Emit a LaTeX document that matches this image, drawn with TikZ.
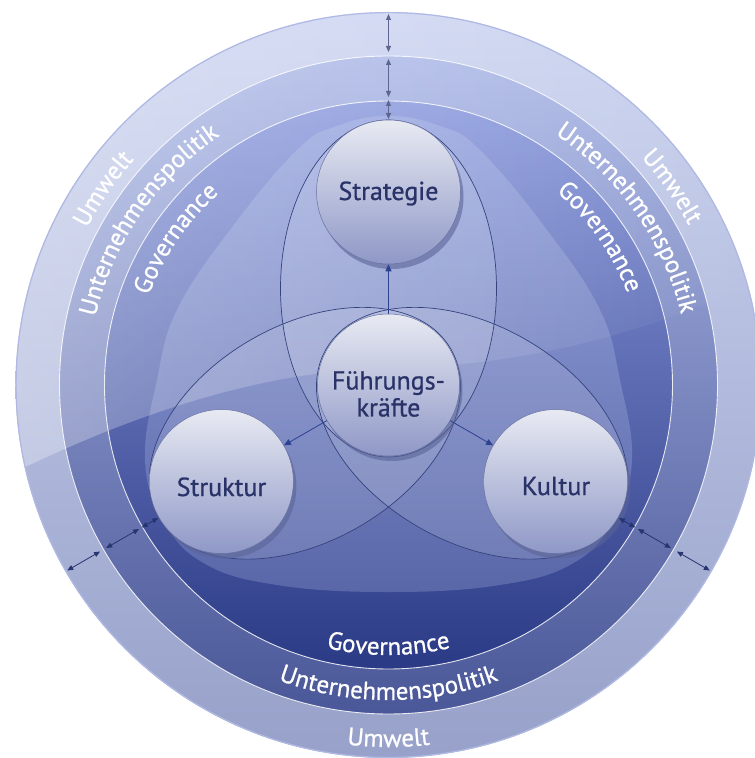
\documentclass[tikz,border=0pt]{standalone}
\usepackage{fontspec}
\setmainfont{PT Sans}
\newfontfamily\medfont[FakeBold=0.8]{PT Sans}
\usetikzlibrary{arrows.meta,decorations.text,fadings}
\definecolor{umTop}{HTML}{CDD5F1}
\definecolor{umBot}{HTML}{97A1C9}
\definecolor{upTop}{HTML}{AEBAE8}
\definecolor{upBot}{HTML}{4A5798}
\definecolor{gvTop}{HTML}{8D9CDE}
\definecolor{gvBot}{HTML}{2B3A85}
\definecolor{inTop}{HTML}{9AA8E0}
\definecolor{inBot}{HTML}{5967A9}
\definecolor{sphTop}{HTML}{E8EAF2}
\definecolor{sphBot}{HTML}{8F98C7}
\definecolor{sphEdge}{HTML}{6A72A2}
\definecolor{sphShadow}{HTML}{5A6497}
\definecolor{txtNavy}{HTML}{2A3368}
\definecolor{petalLine}{HTML}{34437E}
\definecolor{arrNavy}{HTML}{2C4290}
\definecolor{arrDark}{HTML}{26346F}
\definecolor{arrGray}{HTML}{5E6690}
\definecolor{rimCol}{HTML}{AFB9E3}
\newcommand\ringfont{\medfont\fontsize{25}{30}\selectfont\color{white}}
\begin{document}
\begin{tikzpicture}[x=1pt,y=1pt,
  ringlabel/.style={decorate,decoration={text along path,text align=center,text={|\ringfont|#1}}},
  ringline/.style={white,line width=0.9pt,opacity=0.85},
  petal/.style={draw=petalLine,line width=0.7pt},
  sphere/.style={circle,minimum size=144pt,inner sep=0pt,top color=sphTop,bottom color=sphBot,draw=sphEdge,line width=0.5pt},
  sphshadow/.style={fill=sphShadow,fill opacity=0.6},
  sphtext/.style={font=\medfont\fontsize{26}{27}\selectfont,text=txtNavy,align=center,inner sep=0pt},
  inarr/.style={draw=arrNavy,line width=0.8pt,-{Triangle[length=7pt,width=6pt]}},
  ringarr/.style={line width=0.8pt,{Triangle[length=6pt,width=5pt]}-{Triangle[length=6pt,width=5pt]}},
]
\useasboundingbox (-388.5,-373) rectangle (366.5,385);
\clip (-388.5,-373) rectangle (366.5,385);
% rings
\shade[top color=umTop,bottom color=umBot] (0,0) circle[radius=373];
\shade[top color=upTop,bottom color=upBot] (0,0) circle[radius=329];
\shade[top color=gvTop,bottom color=gvBot] (0,0) circle[radius=284];
% inner lighter region
\shade[top color=inTop,bottom color=inBot] plot[smooth cycle,tension=0.7] coordinates {(0,269) (51.5,259) (91.5,235) (158.5,155) (211.5,75) (231.5,5) (243.5,-75) (225,-135) (185,-178) (111.5,-200) (0,-207) (-111.5,-200) (-185,-178) (-225,-135) (-243.5,-75) (-231.5,5) (-211.5,75) (-158.5,155) (-91.5,235) (-51.5,259)};
% petal fills
\foreach \a in {90,210,330}
  \fill[white,fill opacity=0.12,shift={(\a:96.5)},rotate=\a-90] (0,0) ellipse[x radius=108,y radius=168.5];
% gloss
\begin{scope}
  \clip (0,0) circle[radius=373];
  \fill[white,fill opacity=0.3,path fading=east] (-390,-95) .. controls (-250,-25) and (-120,15) .. (0,17) .. controls (150,19) and (280,60) .. (380,110) -- (380,390) -- (-390,390) -- cycle;
\end{scope}
% petal outlines
\foreach \a in {90,210,330}
  \draw[petal,shift={(\a:96.5)},rotate=\a-90] (0,0) ellipse[x radius=108,y radius=168.5];
% ring lines
\draw[ringline] (0,0) circle[radius=329];
\draw[ringline] (0,0) circle[radius=284];
\draw[draw=rimCol,line width=1.2pt] (0,0) circle[radius=372.4];
% ring labels
\path[ringlabel=Umwelt] (185.5:340) arc[start angle=185.5,end angle=105.5,radius=340];
\path[ringlabel=Unternehmenspolitik] (185.5:301) arc[start angle=185.5,end angle=105.5,radius=301];
\path[ringlabel=Governance] (185.5:256) arc[start angle=185.5,end angle=105.5,radius=256];
\path[ringlabel=Umwelt] (75:340) arc[start angle=75,end angle=-5,radius=340];
\path[ringlabel=Unternehmenspolitik] (75:301) arc[start angle=75,end angle=-5,radius=301];
\path[ringlabel=Governance] (75:256) arc[start angle=75,end angle=-5,radius=256];
\path[ringlabel=Governance] (230:270) arc[start angle=230,end angle=310,radius=270];
\path[ringlabel=Unternehmenspolitik] (230:315) arc[start angle=230,end angle=310,radius=315];
\path[ringlabel=Umwelt] (240:362) arc[start angle=240,end angle=300,radius=362];
% sphere shadows
\fill[sphshadow] (90:193) ++(3,-5) circle[radius=72];
\fill[sphshadow] (210:193) ++(3,-5) circle[radius=72];
\fill[sphshadow] (330:193) ++(3,-5) circle[radius=72];
\fill[sphshadow] (0,0) ++(3,-5) circle[radius=71];
% spheres
\node[sphere] (strat) at (90:193) {};
\node[sphere] (strk) at (210:193) {};
\node[sphere] (kult) at (330:193) {};
\node[sphere,minimum size=142pt] (fk) at (0,0) {};
\node[sphtext,anchor=base] (tStrat) at (0,185) {Strategie};
\node[sphtext,anchor=base] (tStrk) at (-167,-111) {Struktur};
\node[sphtext,anchor=base] (tKult) at (167.5,-110) {Kultur};
\node[sphtext] (tFk) at (0,-9) {Führungs-\\kräfte};
% inner arrows
\draw[inarr] (fk) -- (strat);
\draw[inarr] (fk) -- (strk);
\draw[inarr] (fk) -- (kult);
% ring arrows
\foreach \a/\c in {90/arrGray,210/arrDark,330/arrDark} {
  \coordinate (p1-\a) at (\a:371);
  \coordinate (p2-\a) at (\a:333);
  \coordinate (p3-\a) at (\a:326);
  \coordinate (p4-\a) at (\a:288);
  \coordinate (p5-\a) at (\a:285);
  \coordinate (p6-\a) at (\a:266);
  \draw[ringarr,draw=\c] (p1-\a) -- (p2-\a);
  \draw[ringarr,draw=\c] (p3-\a) -- (p4-\a);
  \draw[ringarr,draw=\c] (p5-\a) -- (p6-\a);
}
\end{tikzpicture}
\end{document}
